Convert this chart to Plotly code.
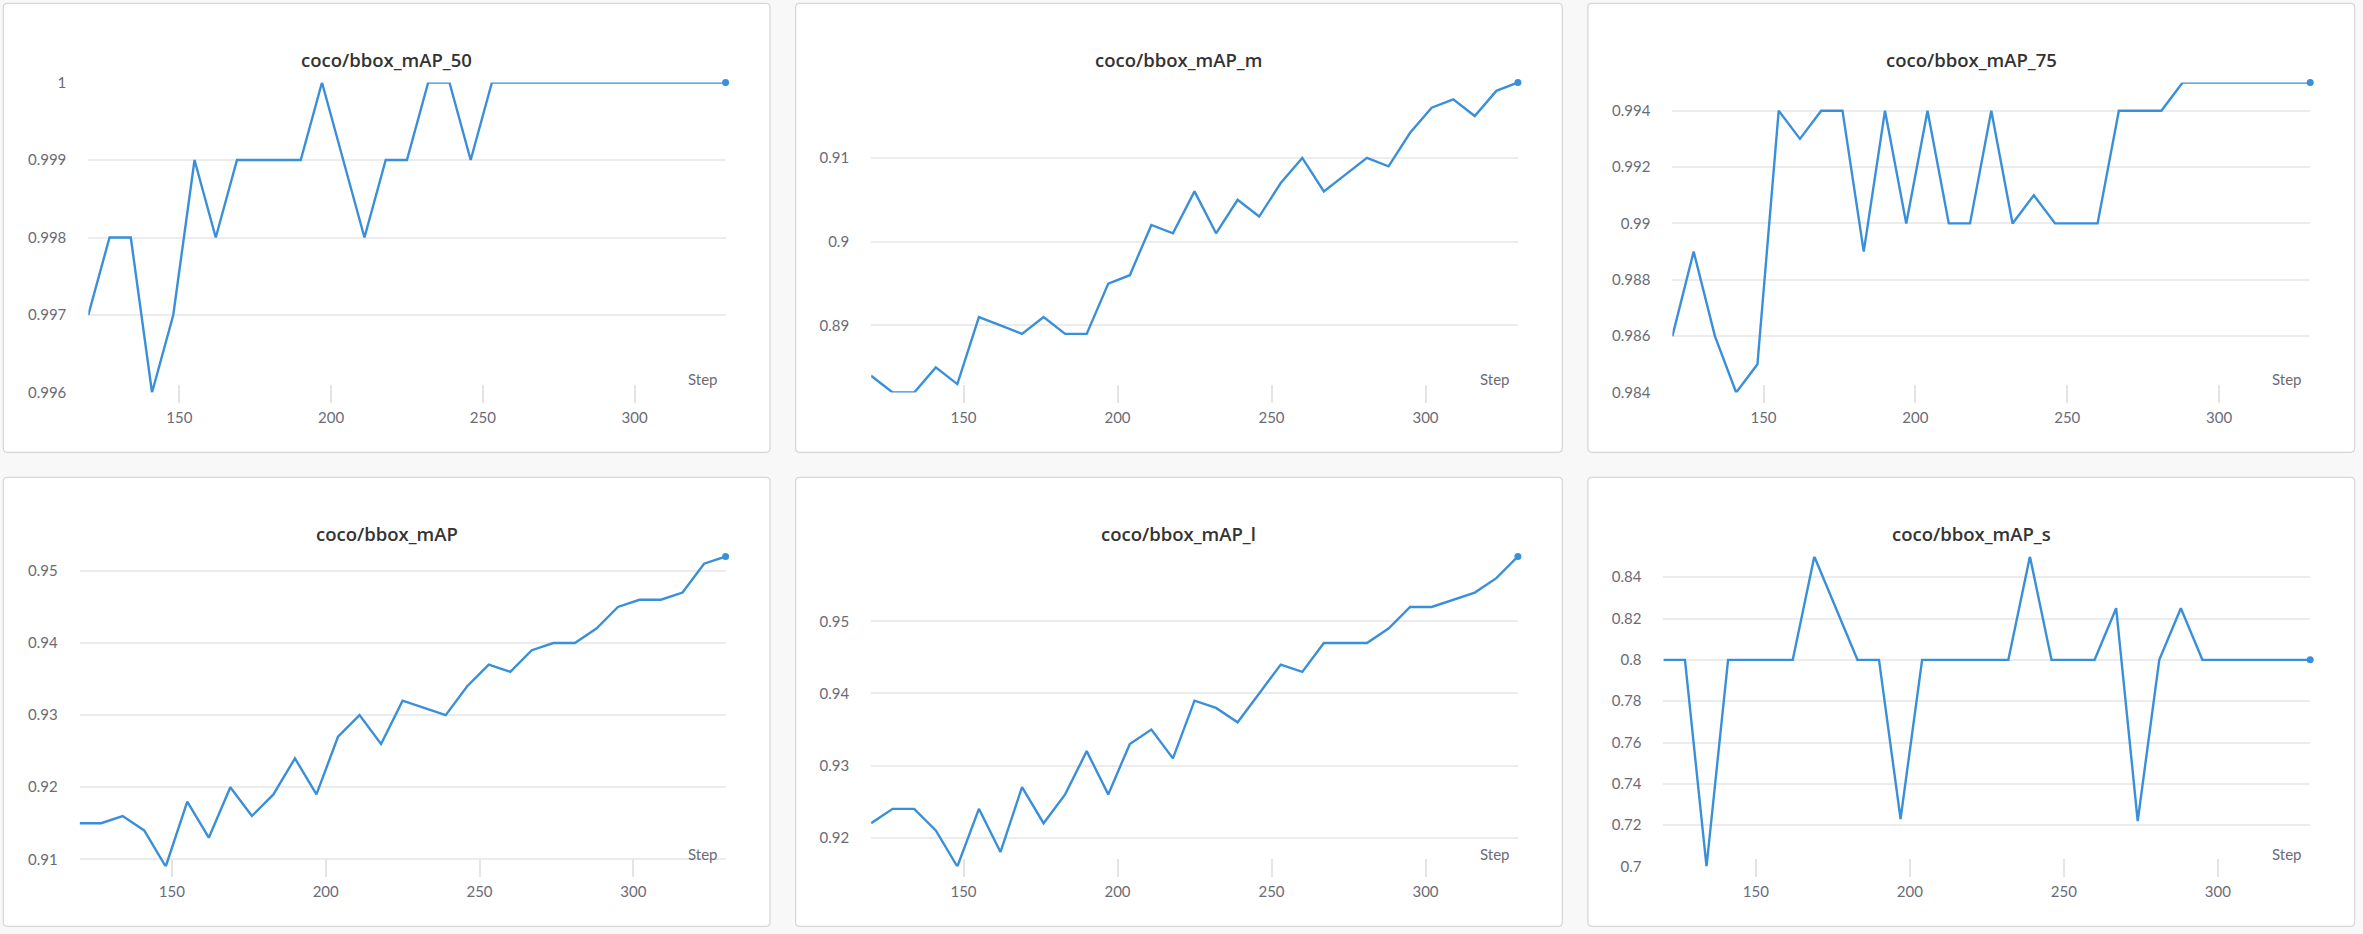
import plotly.graph_objects as go

# ---------------- data ----------------
steps = [120, 127, 134, 141, 148, 155, 162, 169, 176, 183, 190, 197, 204, 211, 218,
         225, 232, 239, 246, 253, 260, 267, 274, 281, 288, 295, 302, 309, 316, 323, 330]

map_50 = [0.997, 0.998, 0.998, 0.996, 0.997, 0.999, 0.998, 0.999, 0.999, 0.999, 0.999,
          1.0, 0.999, 0.998, 0.999, 0.999, 1.0, 1.0, 0.999, 1.0, 1.0, 1.0, 1.0, 1.0,
          1.0, 1.0, 1.0, 1.0, 1.0, 1.0, 1.0]
map_m = [0.884, 0.882, 0.882, 0.885, 0.883, 0.891, 0.890, 0.889, 0.891, 0.889, 0.889,
         0.895, 0.896, 0.902, 0.901, 0.906, 0.901, 0.905, 0.903, 0.907, 0.910, 0.906,
         0.908, 0.910, 0.909, 0.913, 0.916, 0.917, 0.915, 0.918, 0.919]
map_75 = [0.986, 0.989, 0.986, 0.984, 0.985, 0.994, 0.993, 0.994, 0.994, 0.989, 0.994,
          0.990, 0.994, 0.990, 0.990, 0.994, 0.990, 0.991, 0.990, 0.990, 0.990, 0.994,
          0.994, 0.994, 0.995, 0.995, 0.995, 0.995, 0.995, 0.995, 0.995]
map_all = [0.915, 0.915, 0.916, 0.914, 0.909, 0.918, 0.913, 0.920, 0.916, 0.919, 0.924,
           0.919, 0.927, 0.930, 0.926, 0.932, 0.931, 0.930, 0.934, 0.937, 0.936, 0.939,
           0.940, 0.940, 0.942, 0.945, 0.946, 0.946, 0.947, 0.951, 0.952]
map_l = [0.922, 0.924, 0.924, 0.921, 0.916, 0.924, 0.918, 0.927, 0.922, 0.926, 0.932,
         0.926, 0.933, 0.935, 0.931, 0.939, 0.938, 0.936, 0.940, 0.944, 0.943, 0.947,
         0.947, 0.947, 0.949, 0.952, 0.952, 0.953, 0.954, 0.956, 0.959]
map_s = [0.8, 0.8, 0.7, 0.8, 0.8, 0.8, 0.8, 0.85, 0.825, 0.8, 0.8, 0.723, 0.8, 0.8, 0.8,
         0.8, 0.8, 0.85, 0.8, 0.8, 0.8, 0.825, 0.722, 0.8, 0.825, 0.8, 0.8, 0.8, 0.8, 0.8, 0.8]

titles = ["coco/bbox_mAP_50", "coco/bbox_mAP_m", "coco/bbox_mAP_75",
          "coco/bbox_mAP", "coco/bbox_mAP_l", "coco/bbox_mAP_s"]
series = [map_50, map_m, map_75, map_all, map_l, map_s]

x_tickvals = [150, 200, 250, 300]
x_ticktext = ["150", "200", "250", "300"]

y_tickvals = [
    [0.996, 0.997, 0.998, 0.999, 1.0],
    [0.89, 0.90, 0.91],
    [0.984, 0.986, 0.988, 0.990, 0.992, 0.994],
    [0.91, 0.92, 0.93, 0.94, 0.95],
    [0.92, 0.93, 0.94, 0.95],
    [0.70, 0.72, 0.74, 0.76, 0.78, 0.80, 0.82, 0.84],
]
y_ticktext = [
    ["0.996", "0.997", "0.998", "0.999", "1"],
    ["0.89", "0.9", "0.91"],
    ["0.984", "0.986", "0.988", "0.99", "0.992", "0.994"],
    ["0.91", "0.92", "0.93", "0.94", "0.95"],
    ["0.92", "0.93", "0.94", "0.95"],
    ["0.7", "0.72", "0.74", "0.76", "0.78", "0.8", "0.82", "0.84"],
]

# ---------------- layout constants (pixels) ----------------
W, H = 2363, 934
PANEL_X0, PANEL_Y0 = 3.3, 3.3
PANEL_W, PANEL_H = 766.7, 449.0
COL_STEP, ROW_STEP = 792.3, 474.0
PLOT_LEFT = [85.0, 75.5, 84.5, 76.3, 75.5, 75.5]
PLOT_RIGHT = 722.3
PLOT_TOP = 79.2
PLOT_BOTTOM = 389.2
LINE_COLOR = "#3a8fd9"
TICK_COLOR = "#6b6b76"
FONT = "Lato, Roboto, 'Noto Sans', sans-serif"
TITLE_FONT = "'Open Sans', Lato, sans-serif"


def fx(px):
    return px / W


def fy(py):
    return 1 - py / H


def rounded_rect(x0, y0, x1, y1, r):
    pts = [
        ("M", [(x0 + r, y0)]),
        ("L", [(x1 - r, y0)]),
        ("Q", [(x1, y0), (x1, y0 + r)]),
        ("L", [(x1, y1 - r)]),
        ("Q", [(x1, y1), (x1 - r, y1)]),
        ("L", [(x0 + r, y1)]),
        ("Q", [(x0, y1), (x0, y1 - r)]),
        ("L", [(x0, y0 + r)]),
        ("Q", [(x0, y0), (x0 + r, y0)]),
    ]
    s = ""
    for cmd, coords in pts:
        s += cmd + " " + " ".join(f"{fx(a):.6f},{fy(b):.6f}" for a, b in coords) + " "
    return s + "Z"


fig = go.Figure()
layout = dict(
    width=W, height=H, autosize=False,
    margin=dict(l=0, r=0, t=0, b=0, autoexpand=False),
    paper_bgcolor="#f8f8f8",
    plot_bgcolor="rgba(0,0,0,0)",
    showlegend=False,
    font=dict(family=FONT, color=TICK_COLOR, size=15),
    shapes=[], annotations=[],
)

for i, (title, vals) in enumerate(zip(titles, series)):
    r, c = divmod(i, 3)
    k = "" if i == 0 else str(i + 1)
    px0 = PANEL_X0 + c * COL_STEP
    py0 = PANEL_Y0 + r * ROW_STEP
    # panel card
    layout["shapes"].append(dict(
        type="path", xref="paper", yref="paper", layer="below",
        path=rounded_rect(px0, py0, px0 + PANEL_W, py0 + PANEL_H, 4),
        fillcolor="white", line=dict(color="#d6d6d6", width=1.2),
    ))
    plot_x0 = px0 + PLOT_LEFT[i]
    plot_x1 = px0 + PLOT_RIGHT
    plot_y0 = py0 + PLOT_TOP
    plot_y1 = py0 + PLOT_BOTTOM

    layout["xaxis" + k] = dict(
        domain=[fx(plot_x0), fx(plot_x1)],
        anchor="free", position=fy(plot_y1 - 8.5),
        range=[min(steps), max(steps)],
        tickvals=x_tickvals, ticktext=x_ticktext,
        ticks="outside", ticklen=18, tickwidth=2, tickcolor="#e4e4e4",
        ticklabelstandoff=2,
        showgrid=False, zeroline=False, showline=False, automargin=False,
        tickfont=dict(size=15, color=TICK_COLOR, family=FONT),
        fixedrange=True,
    )
    layout["yaxis" + k] = dict(
        domain=[fy(plot_y1), fy(plot_y0)],
        anchor="x" + k,
        range=[min(vals), max(vals)],
        tickvals=y_tickvals[i], ticktext=y_ticktext[i],
        ticks="outside", ticklen=18, tickcolor="rgba(0,0,0,0)",
        showgrid=True, gridcolor="#ececec", gridwidth=1.5,
        zeroline=False, showline=False, automargin=False,
        tickfont=dict(size=15, color=TICK_COLOR, family=FONT),
        fixedrange=True,
    )
    fig.add_trace(go.Scatter(
        x=steps, y=vals, mode="lines", xaxis="x" + k, yaxis="y" + k,
        line=dict(color=LINE_COLOR, width=2.4), cliponaxis=False,
        hoverinfo="x+y",
    ))
    fig.add_trace(go.Scatter(
        x=[steps[-1]], y=[vals[-1]], mode="markers", xaxis="x" + k, yaxis="y" + k,
        marker=dict(color=LINE_COLOR, size=7), cliponaxis=False,
        hoverinfo="x+y",
    ))
    # title
    layout["annotations"].append(dict(
        xref="paper", yref="paper",
        x=fx(px0 + PANEL_W / 2), y=fy(py0 + 56),
        xanchor="center", yanchor="middle",
        text=title, showarrow=False,
        font=dict(size=18.5, color="#333333", family=TITLE_FONT, weight=600),
    ))
    # "Step" label
    layout["annotations"].append(dict(
        xref="x" + k + " domain", yref="y" + k + " domain",
        x=1, y=0, xanchor="right", yanchor="middle",
        xshift=-7, yshift=13,
        text="Step", showarrow=False,
        font=dict(size=15, color=TICK_COLOR, family=FONT),
    ))

fig.update_layout(**layout)
fig.write_html(
    "out.html",
    config={"responsive": False, "displayModeBar": False},
    post_script="document.body.style.margin='0';document.body.style.overflow='hidden';",
)
